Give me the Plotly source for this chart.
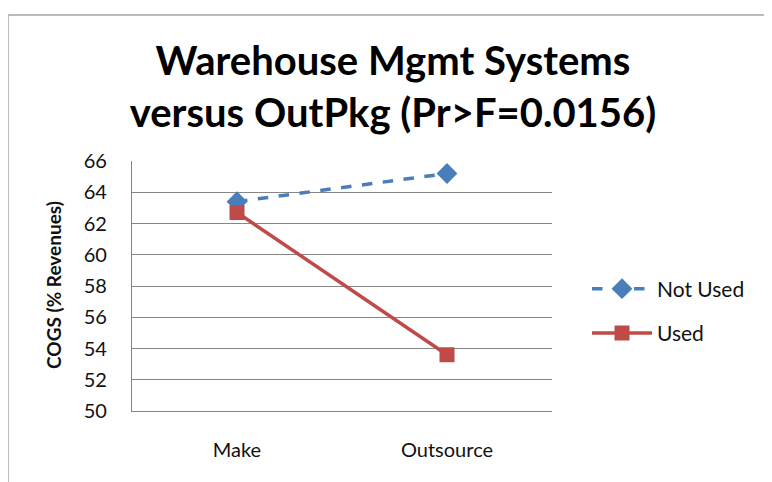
import plotly.graph_objects as go

categories = ["Make", "Outsource"]
not_used = [63.4, 65.2]
used = [62.7, 53.6]
y_ticks = [50, 52, 54, 56, 58, 60, 62, 64, 66]

W, H = 772, 482
OFF = 8  # page body margin offset
L, T = 132 - OFF, 161 - OFF
R = W - (552 - OFF)
B = H - (411 - OFF)
pw, ph = W - L - R, H - T - B

def px_x(x):
    return (x - OFF - L) / pw

def px_y(y):
    return (H - B - (y - OFF)) / ph

fig = go.Figure()
fig.add_trace(go.Scatter(
    x=categories, y=not_used, name="Not Used", mode="lines+markers",
    legendgroup="a",
    line=dict(color="#4a7ebb", width=3.5, dash="dash"),
    marker=dict(symbol="diamond", size=16, color="#4a7ebb"),
))
fig.add_trace(go.Scatter(
    x=categories, y=used, name="Used", mode="lines+markers",
    legendgroup="b",
    line=dict(color="#be4b48", width=3.5),
    marker=dict(symbol="square", size=15, color="#be4b48"),
))

font_family = "Lato, 'Open Sans', sans-serif"

fig.update_layout(
    width=W, height=H,
    margin=dict(l=L, r=R, t=T, b=B, autoexpand=False),
    paper_bgcolor="white", plot_bgcolor="white",
    font=dict(family=font_family, color="#000000"),
    title=dict(
        text="<b>Warehouse Mgmt Systems<br>versus OutPkg (Pr>F=0.0156)</b>",
        font=dict(size=40, family=font_family, color="#000000"),
        x=(393 - OFF) / W, xanchor="center", xref="container",
        y=1 - 67 / H, yanchor="top", yref="container",
    ),
    xaxis=dict(
        type="category", range=[-0.5, 1.5],
        showgrid=False, showline=True, linecolor="#868686", linewidth=1.2,
        ticks="", tickfont=dict(size=20, color="#111111"),
        ticklabelstandoff=21,
    ),
    yaxis=dict(
        range=[50, 66], tickvals=y_ticks,
        showgrid=True, gridcolor="#868686", gridwidth=1,
        showline=True, linecolor="#868686", linewidth=1.2,
        ticks="", tickfont=dict(size=20, color="#111111"),
        ticklabelstandoff=20, zeroline=False,
    ),
    annotations=[dict(
        text="<b>COGS (% Revenues)</b>", textangle=-90,
        xref="paper", yref="paper", x=px_x(53), y=px_y(285),
        xanchor="center", yanchor="middle", showarrow=False,
        font=dict(size=19, color="#111111"),
    )],
    showlegend=True,
    legend=dict(
        x=px_x(587), xanchor="left", y=px_y(311), yanchor="middle",
        font=dict(size=21, color="#111111"),
        traceorder="grouped", tracegroupgap=14,
        bgcolor="rgba(0,0,0,0)", itemwidth=60,
    ),
    shapes=[dict(
        type="rect", xref="paper", yref="paper",
        x0=px_x(8), x1=px_x(800), y0=px_y(500), y1=px_y(15),
        line=dict(color="#a6a6a6", width=1.5), fillcolor="rgba(0,0,0,0)",
        layer="below",
    )],
)

fig.write_html("out.html")
